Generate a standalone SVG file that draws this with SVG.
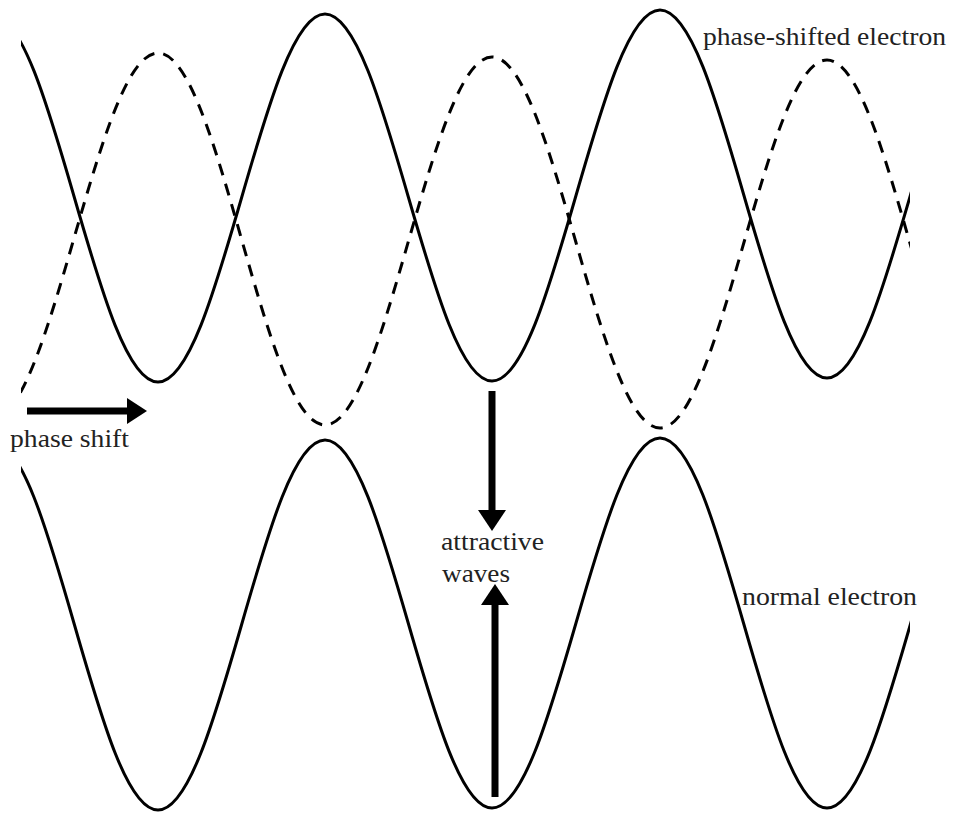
<svg xmlns="http://www.w3.org/2000/svg" width="956" height="820" viewBox="0 0 956 820">
<style>
.wave{fill:none;stroke:#000;stroke-width:3;stroke-linejoin:round}
.dash{stroke-dasharray:12 9}
.shaft{stroke:#000;stroke-width:7;fill:none}
.head{fill:#000;stroke:none}
.lbl{font-family:"Liberation Serif","Times New Roman",serif;font-size:26px;fill:#222}
</style>
<defs>
<clipPath id="clipW"><rect x="21" y="0" width="889" height="820"/></clipPath>
</defs>
<rect width="956" height="820" fill="#fff"/>
<g id="waves" clip-path="url(#clipW)">
<g id="phase-shifted-electron-solid">
<path class="wave" d="M -9 14 C 21.2 14 47.3 103.7 74.5 198 C 101.7 292.3 127.8 382 158 382 C 188.2 382 214.3 292.3 241.5 198 C 268.7 103.7 294.8 14 325 14 C 355.2 14 381.3 103.5 408.5 197.5 C 435.7 291.5 461.8 381 492 381 C 522.4 381 548.6 290.5 576 195.5 C 603.4 100.5 629.6 10 660 10 C 690.2 10 716.3 99.7 743.5 194 C 770.7 288.3 796.8 378 827 378 C 857.2 378 883.3 288.8 910.5 195 C 937.7 101.3 963.8 12 994 12"/>
</g>
<g id="phase-shifted-electron-dashed">
<path class="wave dash" d="M -9 420 C 21.2 420 47.3 330.5 74.5 236.5 C 101.7 142.5 127.8 53 158 53 C 188.2 53 214.3 143.7 241.5 239 C 268.7 334.3 294.8 425 325 425 C 355.2 425 381.3 335.3 408.5 241 C 435.7 146.7 461.8 57 492 57 C 522.4 57 548.6 147.5 576 242.5 C 603.4 337.5 629.6 428 660 428 C 690.2 428 716.3 338.3 743.5 244 C 770.7 149.7 796.8 60 827 60 C 857.2 60 883.3 150.2 910.5 245 C 937.7 339.8 963.8 430 994 430"/>
</g>
<g id="normal-electron">
<path class="wave" d="M -9 440 C 21.2 440 47.3 530.2 74.5 625 C 101.7 719.8 127.8 810 158 810 C 188.2 810 214.3 719.8 241.5 625 C 268.7 530.2 294.8 440 325 440 C 355.2 440 381.3 529.7 408.5 624 C 435.7 718.3 461.8 808 492 808 C 522.4 808 548.6 717.8 576 623 C 603.4 528.2 629.6 438 660 438 C 690.2 438 716.3 528.2 743.5 623 C 770.7 717.8 796.8 808 827 808 C 857.2 808 883.3 718.3 910.5 624 C 937.7 529.7 963.8 440 994 440"/>
</g>
</g>
<g id="connectors">
<g id="arrow-phase-shift">
<line class="shaft" x1="27" y1="411" x2="129" y2="411"/>
<polygon class="head" points="127,398 147,411 127,424"/>
</g>
<g id="arrow-down">
<line class="shaft" x1="492" y1="391" x2="492" y2="512"/>
<polygon class="head" points="478,510 506,510 492,531"/>
</g>
<g id="arrow-up">
<line class="shaft" x1="495" y1="603" x2="495" y2="797"/>
<polygon class="head" points="481,605 509,605 495,584"/>
</g>
</g>
<g id="labels">
<text class="lbl" x="703" y="45" textLength="243" lengthAdjust="spacingAndGlyphs">phase-shifted electron</text>
<text class="lbl" x="10" y="447" textLength="119" lengthAdjust="spacingAndGlyphs">phase shift</text>
<text class="lbl" x="441" y="550" textLength="103" lengthAdjust="spacingAndGlyphs">attractive</text>
<text class="lbl" x="442" y="582" textLength="68" lengthAdjust="spacingAndGlyphs">waves</text>
<text class="lbl" x="742" y="605" textLength="175" lengthAdjust="spacingAndGlyphs">normal electron</text>
</g>
</svg>
